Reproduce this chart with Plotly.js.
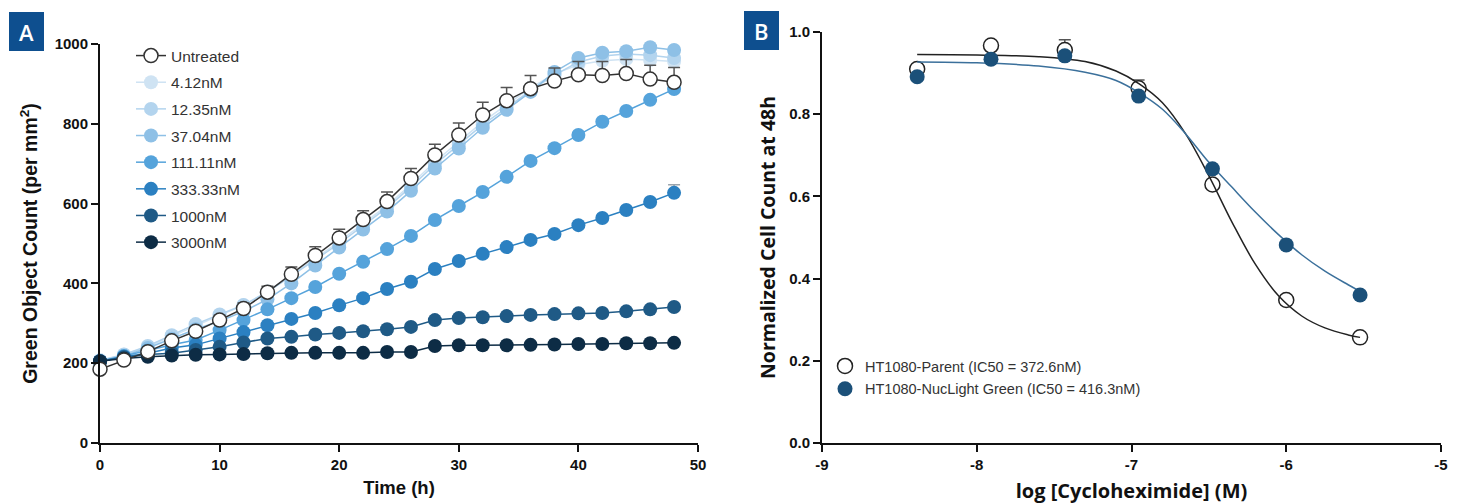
<!DOCTYPE html>
<html>
<head>
<meta charset="utf-8">
<script src="https://cdn.plot.ly/plotly-3.0.1.min.js"></script>
<style>html,body{margin:0;padding:0;background:#fff;}#chart{width:1462px;height:504px;}</style>
</head>
<body>
<div id="chart"></div>
<script>
// ---------- Panel A data ----------
const timeH = [0,2,4,6,8,10,12,14,16,18,20,22,24,26,28,30,32,34,36,38,40,42,44,46,48];
const seriesNames = ["Untreated","4.12nM","12.35nM","37.04nM","111.11nM","333.33nM","1000nM","3000nM"];
const untreated = [185,208,229,256,280,308,337,378,423,470,514,560,605,663,722,772,822,858,888,907,923,921,926,912,904];
const untreatedErr = [6,6,8,8,10,12,14,15,18,22,22,22,24,25,27,30,32,33,33,33,33,35,35,35,37];
const c412 = [208,221,241,268,295,320,345,380,420,462,505,550,595,648,705,755,805,848,890,925,948,958,962,960,956];
const c1235 = [206,222,243,270,298,322,346,378,418,458,500,545,590,642,698,748,798,840,884,922,955,970,975,972,965];
const c1235Err = [0,0,0,0,0,0,0,0,0,0,0,0,0,0,0,0,0,0,10,12,13,13,13,12,12];
const c3704 = [205,218,238,261,285,305,330,360,400,445,490,535,580,632,688,738,790,835,880,930,965,978,982,992,985];
const c11111 = [205,218,232,246,258,283,308,335,363,391,424,454,486,519,559,594,629,667,707,739,772,805,832,860,887];
const c33333 = [205,216,225,238,246,262,278,295,311,326,345,363,386,404,436,456,474,491,509,524,546,564,584,604,627];
const c33333Err = [0,0,0,0,0,0,0,0,0,0,0,0,0,0,0,0,0,0,0,0,0,0,0,0,20];
const c1000 = [205,215,222,225,233,241,252,262,266,272,276,280,285,291,308,313,315,318,321,323,325,326,330,335,341];
const c3000 = [205,212,216,219,221,222,223,225,226,226,226,226,228,228,243,245,245,245,246,247,248,248,250,250,251];
const seriesColors = ["#333333","#cfe3f3","#b3d4ee","#8ec0e6","#55a3db","#2b80c1","#1f5a86","#0d2c45"];
const xTicksA = [0,10,20,30,40,50];
const yTicksA = [0,200,400,600,800,1000];

// ---------- Panel B data ----------
const logConc = [-8.385,-7.908,-7.431,-6.954,-6.477,-6.0,-5.523];
const parentVals = [0.910,0.967,0.956,0.863,0.629,0.348,0.257];
const parentErr = [0.005,0.005,0.025,0.02,0.005,0.005,0.005];
const nucVals = [0.891,0.934,0.942,0.844,0.667,0.482,0.360];
const fitX = [-8.385,-8.0,-7.6,-7.3,-7.1,-6.95,-6.8,-6.65,-6.5,-6.35,-6.2,-6.05,-5.9,-5.75,-5.6,-5.523];
const parentFit = [0.945,0.944,0.940,0.928,0.905,0.874,0.828,0.752,0.650,0.537,0.435,0.358,0.309,0.280,0.263,0.257];
const nucFit = [0.927,0.925,0.917,0.902,0.882,0.852,0.812,0.752,0.683,0.622,0.562,0.507,0.458,0.418,0.385,0.369];
const legendB = ["HT1080-Parent (IC50 = 372.6nM)","HT1080-NucLight Green (IC50 = 416.3nM)"];
const xTicksB = [-9,-8,-7,-6,-5];
const xTickTextB = ["-9","-8","-7","-6","-5"];
const yTicksB = [0,0.2,0.4,0.6,0.8,1.0];

const W = 1462, H = 504;
const px = v => v / W;
const py = v => 1 - v / H;
const AR = "Liberation Sans, Arial, Helvetica, sans-serif";
const OS = "Open Sans, Segoe UI, sans-serif";

// error bars in their own trace, drawn just beneath the markers they belong to
function errTrace(x, y, err, color, xa, ya) {
  return {
    type: "scatter", mode: "markers", x: x, y: y, xaxis: xa, yaxis: ya,
    marker: {size: 1, color: "rgba(0,0,0,0)"}, showlegend: false, hoverinfo: "skip", cliponaxis: false,
    error_y: {type: "data", array: err, arrayminus: err.map(() => 0), symmetric: false,
              color: color, thickness: 1.5, width: 6}
  };
}

function treatedTrace(name, y, color, rank) {
  return {
    type: "scatter", mode: "lines+markers", x: timeH, y: y, name: name,
    xaxis: "x", yaxis: "y", legendgroup: name, legendrank: rank,
    line: {color: color, width: 1.5},
    marker: {color: color, size: 14, line: {width: 0}},
    cliponaxis: false, hoverinfo: "skip"
  };
}

const traces = [
  treatedTrace(seriesNames[1], c412, seriesColors[1], 2),
  errTrace(timeH, c1235, c1235Err, "#a9b7c2", "x", "y"),
  treatedTrace(seriesNames[2], c1235, seriesColors[2], 3),
  treatedTrace(seriesNames[3], c3704, seriesColors[3], 4),
  treatedTrace(seriesNames[4], c11111, seriesColors[4], 5),
  errTrace(timeH, c33333, c33333Err, "#9aa4ac", "x", "y"),
  treatedTrace(seriesNames[5], c33333, seriesColors[5], 6),
  treatedTrace(seriesNames[6], c1000, seriesColors[6], 7),
  treatedTrace(seriesNames[7], c3000, seriesColors[7], 8),
  errTrace(timeH, untreated, untreatedErr, "#555555", "x", "y"),
  {
    type: "scatter", mode: "lines+markers", x: timeH, y: untreated, name: seriesNames[0],
    xaxis: "x", yaxis: "y", legendgroup: seriesNames[0], legendrank: 1,
    line: {color: "#333333", width: 1.5},
    marker: {color: "#ffffff", size: 14, line: {color: "#333333", width: 1.5}},
    cliponaxis: false, hoverinfo: "skip"
  },
  // Panel B
  errTrace(logConc, parentVals, parentErr, "#555555", "x2", "y2"),
  {type: "scatter", mode: "markers", x: logConc, y: parentVals, name: legendB[0], xaxis: "x2", yaxis: "y2",
   legend: "legend2", legendgroup: "b1", legendrank: 1,
   marker: {color: "#ffffff", size: 15, line: {color: "#222222", width: 1.5}},
   cliponaxis: false, hoverinfo: "skip"},
  // fitted curves
  {type: "scatter", mode: "lines", x: fitX, y: parentFit, xaxis: "x2", yaxis: "y2",
   line: {color: "#222222", width: 1.5, shape: "spline", smoothing: 1}, showlegend: false, hoverinfo: "skip"},
  {type: "scatter", mode: "lines", x: fitX, y: nucFit, xaxis: "x2", yaxis: "y2",
   line: {color: "#3b709b", width: 1.5, shape: "spline", smoothing: 1}, showlegend: false, hoverinfo: "skip"},
  {type: "scatter", mode: "markers", x: logConc, y: nucVals, name: legendB[1], xaxis: "x2", yaxis: "y2",
   legend: "legend2", legendgroup: "b2", legendrank: 2,
   marker: {color: "#1b5079", size: 15, line: {width: 0}}, cliponaxis: false, hoverinfo: "skip"}
];

const tickFont = {family: AR, size: 15, color: "#111", weight: "bold"};
const axCommon = {
  showgrid: false, zeroline: false, showline: true, linecolor: "#111", linewidth: 2,
  ticks: "outside", ticklen: 7, tickwidth: 2, tickcolor: "#111", tickfont: tickFont, fixedrange: true
};

const layout = {
  width: W, height: H,
  margin: {l: 0, r: 0, t: 0, b: 0},
  paper_bgcolor: "#fff", plot_bgcolor: "rgba(0,0,0,0)",
  showlegend: true,
  xaxis: Object.assign({}, axCommon, {
    domain: [px(100), px(698)], range: [0, 50], tickvals: xTicksA, anchor: "y",
    title: {text: "Time (h)", font: {family: AR, size: 18.5, color: "#111", weight: "bold"}, standoff: 9}
  }),
  yaxis: Object.assign({}, axCommon, {
    domain: [py(443), py(44)], range: [0, 1000], tickvals: yTicksA, anchor: "x",
    title: {text: "Green Object Count (per mm<sup>2</sup>)", font: {family: AR, size: 19.5, color: "#111", weight: "bold"}, standoff: 12}
  }),
  xaxis2: Object.assign({}, axCommon, {
    domain: [px(822), px(1441)], range: [-9, -5], tickvals: xTicksB, ticktext: xTickTextB, anchor: "y2",
    title: {text: "log [Cycloheximide] (M)", font: {family: OS, size: 20, color: "#111", weight: "bold"}, standoff: 16}
  }),
  yaxis2: Object.assign({}, axCommon, {
    domain: [py(443), py(32)], range: [0, 1.0], tickvals: yTicksB, tickformat: ".1f", anchor: "x2",
    title: {text: "Normalized Cell Count at 48h", font: {family: OS, size: 19.5, color: "#111", weight: "bold"}, standoff: 8}
  }),
  legend: {
    x: px(131), y: py(39), xanchor: "left", yanchor: "top",
    bgcolor: "rgba(0,0,0,0)", borderwidth: 0, traceorder: "grouped", tracegroupgap: 3.5,
    font: {family: AR, size: 15.5, color: "#333"}
  },
  legend2: {
    x: px(825), y: py(350), xanchor: "left", yanchor: "top",
    bgcolor: "rgba(0,0,0,0)", borderwidth: 0, traceorder: "grouped", tracegroupgap: 1,
    font: {family: AR, size: 14.5, color: "#333"}
  },
  shapes: [
    {type: "rect", xref: "paper", yref: "paper", x0: px(9), x1: px(44), y0: py(51), y1: py(12), fillcolor: "#0e4f8f", line: {width: 0}, layer: "above"},
    {type: "rect", xref: "paper", yref: "paper", x0: px(744), x1: px(779), y0: py(50), y1: py(11), fillcolor: "#0e4f8f", line: {width: 0}, layer: "above"}
  ],
  annotations: [
    {text: "A", xref: "paper", yref: "paper", x: px(26.5), y: py(31.5), xanchor: "center", yanchor: "middle", showarrow: false,
     font: {family: OS, size: 22, color: "#fff", weight: 600}},
    {text: "B", xref: "paper", yref: "paper", x: px(761.5), y: py(30.5), xanchor: "center", yanchor: "middle", showarrow: false,
     font: {family: OS, size: 22, color: "#fff", weight: 600}}
  ]
};

Plotly.newPlot("chart", traces, layout, {displayModeBar: false, staticPlot: true});
</script>
</body>
</html>
